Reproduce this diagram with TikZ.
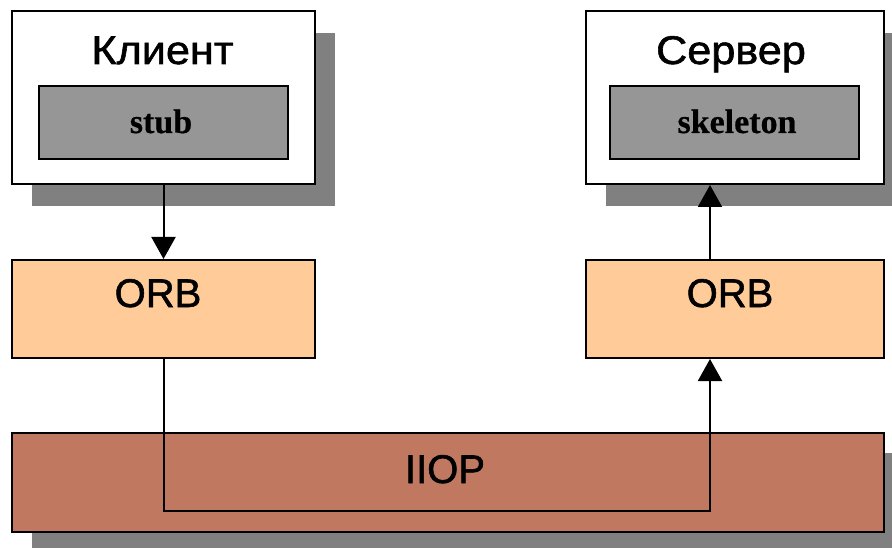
\documentclass[tikz,border=0pt]{standalone}
\usepackage{fontspec}
\setmainfont{Liberation Sans}
\newfontfamily\titlefont[FakeBold=1.4]{Liberation Sans}
\newfontfamily\widetitlefont[FakeBold=1.4, FakeStretch=1.08]{Liberation Sans}
\newfontfamily\codefont[FakeBold=0.6]{Liberation Serif}
\usetikzlibrary{positioning,arrows.meta,shadows}

\definecolor{orbfill}{HTML}{FFCC99}
\definecolor{iiopfill}{HTML}{C07860}
\definecolor{stubfill}{HTML}{969696}
\definecolor{shadowgray}{HTML}{808080}

\tikzset{
    box/.style={draw=black, line width=2pt, rectangle, inner sep=0pt},
    hostbox/.style={box, fill=white,
        drop shadow={shadow xshift=20pt, shadow yshift=-22pt, fill=shadowgray, opacity=1}},
    stubbox/.style={box, fill=stubfill},
    orbbox/.style={box, fill=orbfill},
    iiopbox/.style={box, fill=iiopfill,
        drop shadow={shadow xshift=20pt, shadow yshift=-20pt, fill=shadowgray, opacity=1}},
    title/.style={anchor=base, inner sep=0pt, font=\titlefont\fontsize{40}{48}\selectfont},
    widetitle/.style={title, font=\widetitlefont\fontsize{40}{48}\selectfont},
    code/.style={anchor=base, inner sep=0pt, font=\codefont\bfseries\fontsize{34}{40}\selectfont},
    conn/.style={line width=2pt, draw=black},
    tip/.style={-{Triangle[width=24pt, length=22pt]}}
}

\begin{document}
\begin{tikzpicture}[x=1pt, y=-1pt]
    \useasboundingbox (0,0) rectangle (892,548);

    % Cliente y servidor con sombra
    \node[hostbox, minimum width=303pt, minimum height=173pt] (client) at (163.5,97.5) {};
    \node[hostbox, minimum width=298pt, minimum height=173pt] (server) at (735,97.5) {};
    \node[widetitle] (clienttitle) at (162.5,64) {Клиент};
    \node[widetitle] (servertitle) at (731,64) {Сервер};

    % stub / skeleton
    \node[stubbox, minimum width=249pt, minimum height=73pt] (stub) at (163.5,122.5) {};
    \node[stubbox, minimum width=249pt, minimum height=73pt] (skeleton) at (734.5,122.5) {};
    \node[code] (stubtext) at (161,133) {stub};
    \node[code] (skeletontext) at (737,133) {skeleton};

    % Capa IIOP
    \node[iiopbox, minimum width=872pt, minimum height=99pt] (iiop) at (448,482.5) {};
    \node[title] (iioptext) at (445,483) {IIOP};

    % Los dos ORB
    \node[orbbox, minimum width=303pt, minimum height=98pt] (orbA) at (163.5,309) {};
    \node[orbbox, minimum width=298pt, minimum height=98pt] (orbB) at (735,309) {};
    \node[title] (orbAtext) at (158,307) {ORB};
    \node[title] (orbBtext) at (730,307) {ORB};

    % Trayecto de la llamada
    \coordinate (turn) at (710,511);
    \draw[conn, tip] (client.south) -- (orbA.north);
    \draw[conn, tip] (orbA.south) |- (turn) -- (orbB.south -| turn);
    \draw[conn, tip] (orbB.north -| turn) -- (server.south -| turn);
\end{tikzpicture}
\end{document}
